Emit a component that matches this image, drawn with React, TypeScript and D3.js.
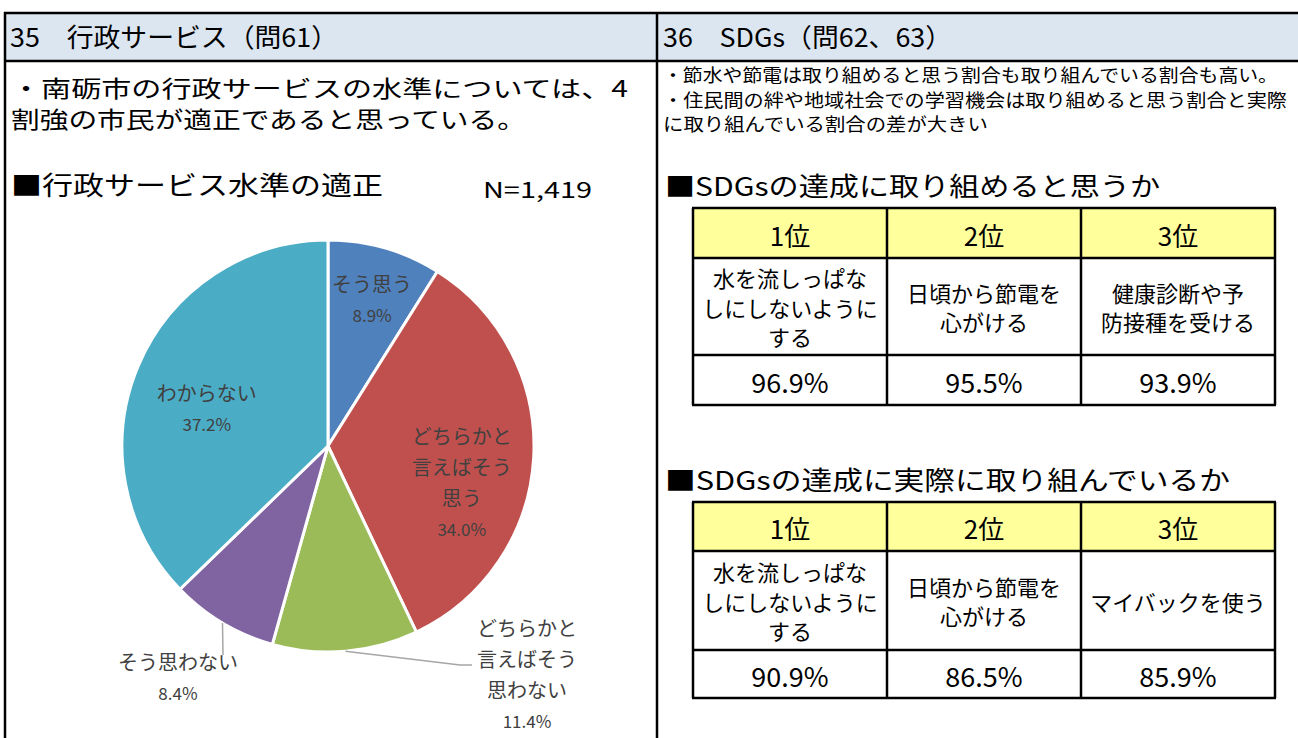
import React from "react";
import * as d3 from "d3";

// ---------- data ----------
const pieCategories = [
  "そう思う",
  "どちらかと言えばそう思う",
  "どちらかと言えばそう思わない",
  "そう思わない",
  "わからない",
];
const pieLabelLines = [
  ["そう思う"],
  ["どちらかと", "言えばそう", "思う"],
  ["どちらかと", "言えばそう", "思わない"],
  ["そう思わない"],
  ["わからない"],
];
const pieValues = [8.9, 34.0, 11.4, 8.4, 37.2];
const pieColors = ["#4f81bd", "#c0504d", "#9bbb59", "#8064a2", "#4bacc6"];

const rankLabels = ["1位", "2位", "3位"];
const canItems = [
  ["水を流しっぱな", "しにしないように", "する"],
  ["日頃から節電を", "心がける"],
  ["健康診断や予", "防接種を受ける"],
];
const canValues = [96.9, 95.5, 93.9];
const doItems = [
  ["水を流しっぱな", "しにしないように", "する"],
  ["日頃から節電を", "心がける"],
  ["マイバックを使う"],
];
const doValues = [90.9, 86.5, 85.9];

// ---------- layout ----------
const W = 1298;
const H = 738;
const FONT = "'Noto Sans CJK JP', 'Noto Sans', sans-serif";

const cx = 328;
const cy = 446;
const R = 206;

// label placement per slice (inside: offset from centroid; outside: leader)
const labelLayout = [
  { type: "in", rf: 0.74, dx: 2, dy: 0 },
  { type: "in", rf: 0.66, dx: -2, dy: 28 },
  { type: "out", elbow: [460, 665], end: [472, 665], tx: 527, ty: 674 },
  { type: "out", elbow: [223, 655], end: [223, 655], tx: 178, ty: 677 },
  { type: "in", rf: 0.66, dx: 4, dy: 15 },
];

function Table({ x, y, colW, rowH, items, values }: any) {
  const xs = d3.range(4).map((i) => x + i * colW);
  const ys = [y, y + rowH[0], y + rowH[0] + rowH[1], y + rowH[0] + rowH[1] + rowH[2]];
  const fmt = d3.format(".1f");
  return (
    <g>
      <rect x={x} y={ys[0]} width={colW * 3} height={rowH[0]} fill="#ffff9c" />
      {rankLabels.map((r, i) => (
        <text
          key={"h" + i}
          x={xs[i] + colW / 2}
          y={ys[0] + rowH[0] / 2 + 1}
          textAnchor="middle"
          dominantBaseline="central"
          fontSize={26}
          fontFamily={FONT}
          fill="#000"
        >
          {r}
        </text>
      ))}
      {items.map((lines: string[], i: number) => {
        const lh = 29.5;
        const mid = ys[1] + rowH[1] / 2;
        return lines.map((l, j) => (
          <text
            key={"m" + i + "-" + j}
            x={xs[i] + colW / 2}
            y={mid + (j - (lines.length - 1) / 2) * lh}
            textAnchor="middle"
            dominantBaseline="central"
            fontSize={22}
            fontFamily={FONT}
            fill="#000"
          >
            {l}
          </text>
        ));
      })}
      {values.map((v: number, i: number) => (
        <text
          key={"v" + i}
          x={xs[i] + colW / 2}
          y={ys[2] + rowH[2] / 2 + 1}
          textAnchor="middle"
          dominantBaseline="central"
          fontSize={27}
          fontFamily={FONT}
          fill="#000"
        >
          {fmt(v) + "%"}
        </text>
      ))}
      {ys.map((yy, i) => (
        <line key={"hl" + i} x1={x - 1} x2={x + colW * 3 + 1} y1={yy} y2={yy} stroke="#000" strokeWidth={2.5} />
      ))}
      {xs.map((xx, i) => (
        <line key={"vl" + i} x1={xx} x2={xx} y1={ys[0]} y2={ys[3]} stroke="#000" strokeWidth={2.5} />
      ))}
    </g>
  );
}

export default function App() {
  const pie = d3
    .pie<number>()
    .sort(null)
    .startAngle(0)
    .endAngle(2 * Math.PI)
    .value((d) => d);
  const arcs = pie(pieValues);
  const arc = d3.arc<d3.PieArcDatum<number>>().innerRadius(0).outerRadius(R);
  const fmt = d3.format(".1f");

  return (
    <svg
      width={W}
      height={H}
      style={{ position: "absolute", left: 0, top: 0, background: "#fff" }}
    >
      <rect x={0} y={0} width={W} height={H} fill="#fff" />
      {/* header band */}
      <rect x={5} y={13} width={W - 5} height={48} fill="#dce6f1" />
      <line x1={4} x2={W} y1={13} y2={13} stroke="#000" strokeWidth={2.5} />
      <line x1={4} x2={W} y1={61} y2={61} stroke="#000" strokeWidth={2.5} />
      <line x1={5} x2={5} y1={12} y2={H} stroke="#000" strokeWidth={2.5} />
      <line x1={657} x2={657} y1={12} y2={H} stroke="#000" strokeWidth={2.5} />

      <text x={10} y={47} fontSize={26} fontFamily={FONT} fill="#000" textLength={328} lengthAdjust="spacingAndGlyphs">
        35　行政サービス（問61）
      </text>
      <text x={663} y={47} fontSize={26} fontFamily={FONT} fill="#000" textLength={289} lengthAdjust="spacingAndGlyphs">
        36　SDGs（問62、63）
      </text>

      {/* left text */}
      <text x={11} y={97} fontSize={23} fontFamily={FONT} fill="#000" textLength={617} lengthAdjust="spacingAndGlyphs">
        ・南砺市の行政サービスの水準については、4
      </text>
      <text x={11} y={128} fontSize={23} fontFamily={FONT} fill="#000" textLength={515} lengthAdjust="spacingAndGlyphs">
        割強の市民が適正であると思っている。
      </text>
      <text x={11} y={195} fontSize={26} fontFamily={FONT} fill="#000" textLength={372} lengthAdjust="spacingAndGlyphs">
        ■行政サービス水準の適正
      </text>
      <text x={483} y={198} fontSize={22} fontFamily={FONT} fill="#000" textLength={109} lengthAdjust="spacingAndGlyphs">
        N=1,419
      </text>

      {/* right text */}
      <text x={663} y={82} fontSize={18} fontFamily={FONT} fill="#000" textLength={615} lengthAdjust="spacingAndGlyphs">
        ・節水や節電は取り組めると思う割合も取り組んでいる割合も高い。
      </text>
      <text x={663} y={107} fontSize={18} fontFamily={FONT} fill="#000" textLength={624} lengthAdjust="spacingAndGlyphs">
        ・住民間の絆や地域社会での学習機会は取り組めると思う割合と実際
      </text>
      <text x={663} y={131} fontSize={18} fontFamily={FONT} fill="#000" textLength={325} lengthAdjust="spacingAndGlyphs">
        に取り組んでいる割合の差が大きい
      </text>
      <text x={665} y={196} fontSize={26} fontFamily={FONT} fill="#000" textLength={495} lengthAdjust="spacingAndGlyphs">
        ■SDGsの達成に取り組めると思うか
      </text>
      <text x={665} y={490} fontSize={26} fontFamily={FONT} fill="#000" textLength={565} lengthAdjust="spacingAndGlyphs">
        ■SDGsの達成に実際に取り組んでいるか
      </text>

      <Table x={693} y={208} colW={194} rowH={[50, 97, 50]} items={canItems} values={canValues} />
      <Table x={693} y={502} colW={194} rowH={[49, 99, 48]} items={doItems} values={doValues} />

      {/* pie */}
      <g transform={`translate(${cx},${cy})`}>
        {arcs.map((a, i) => (
          <path key={pieCategories[i]} d={arc(a) || ""} fill={pieColors[i]} stroke="#fff" strokeWidth={3} strokeLinejoin="round" />
        ))}
      </g>
      {arcs.map((a, i) => {
        const L: any = labelLayout[i];
        const mid = (a.startAngle + a.endAngle) / 2;
        const lines = [...pieLabelLines[i], fmt(pieValues[i]) + "%"];
        const lh = 31;
        let tx: number, ty: number;
        let leader = null;
        if (L.type === "in") {
          tx = cx + Math.sin(mid) * R * L.rf + L.dx;
          ty = cy - Math.cos(mid) * R * L.rf + L.dy;
        } else {
          const ex = cx + Math.sin(mid) * R;
          const ey = cy - Math.cos(mid) * R;
          leader = (
            <polyline
              points={`${ex},${ey} ${L.elbow[0]},${L.elbow[1]} ${L.end[0]},${L.end[1]}`}
              fill="none"
              stroke="#a6a6a6"
              strokeWidth={1.5}
            />
          );
          tx = L.tx;
          ty = L.ty;
        }
        return (
          <g key={"lab" + i}>
            {leader}
            {lines.map((l, j) => (
              <text
                key={j}
                x={tx}
                y={ty + (j - (lines.length - 1) / 2) * lh}
                textAnchor="middle"
                dominantBaseline="central"
                fontSize={j === lines.length - 1 ? 17 : 20}
                fontFamily={FONT}
                fill="#404040"
              >
                {l}
              </text>
            ))}
          </g>
        );
      })}
    </svg>
  );
}
